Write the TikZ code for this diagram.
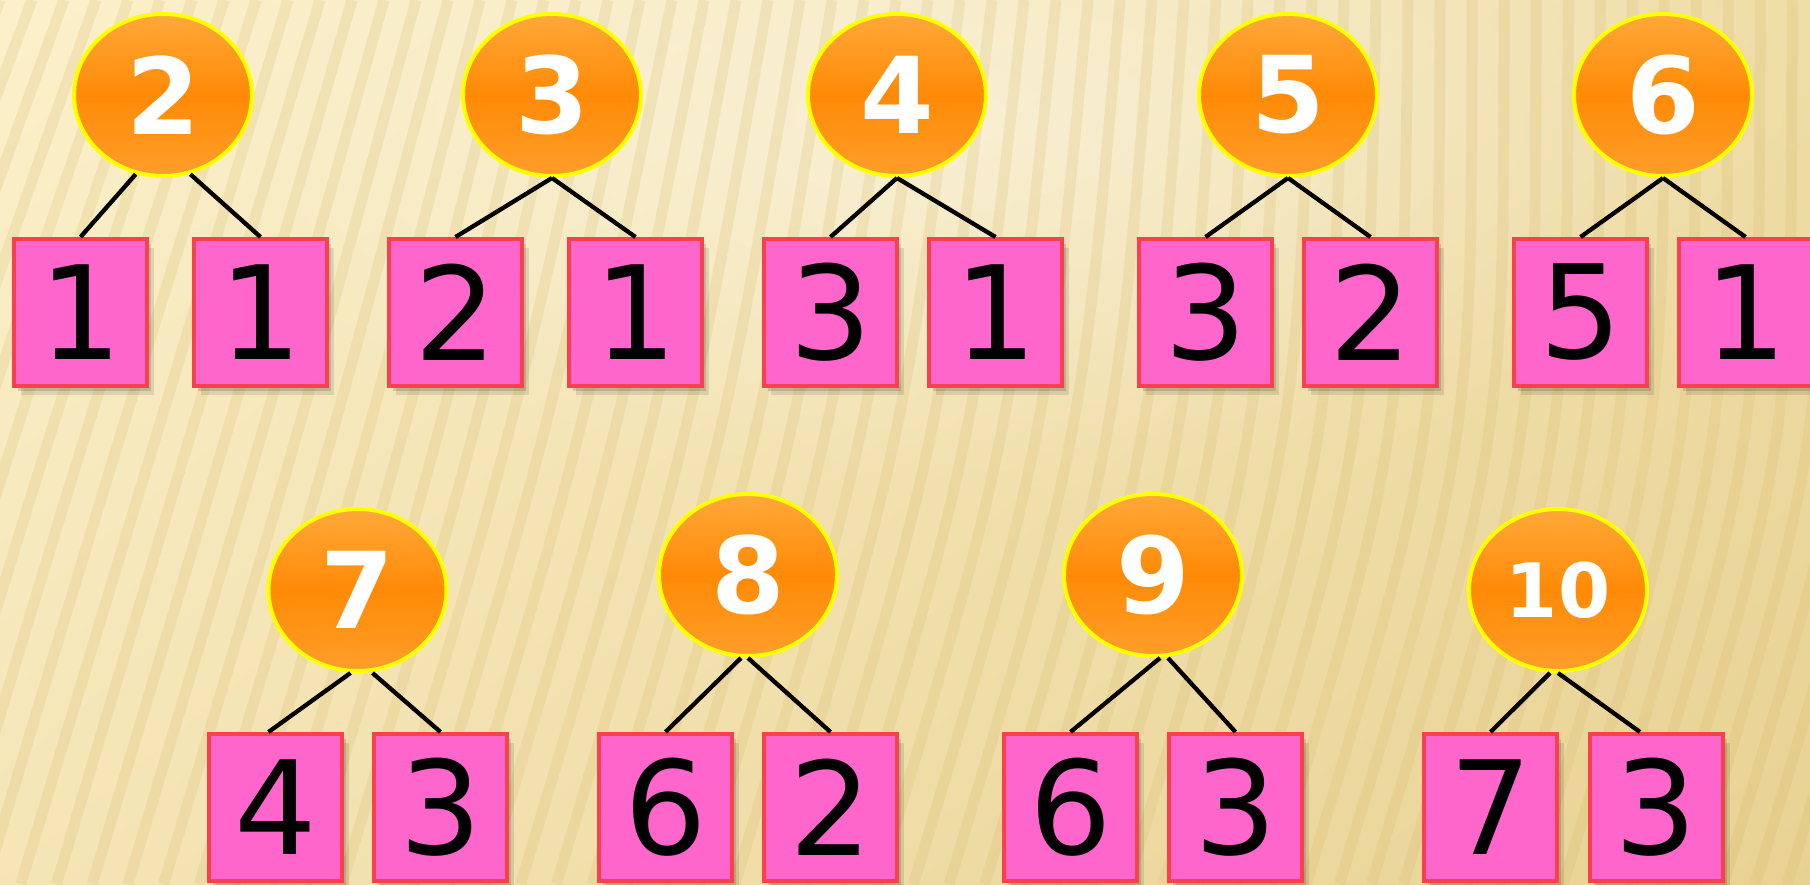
\documentclass[tikz,border=0pt]{standalone}
\usepackage{fontspec}
\setmainfont{DejaVu Sans}
\usetikzlibrary{shapes.geometric,shadows,calc,fadings}
\tikzfading[name=softglow, inner color=transparent!0, outer color=transparent!100]
\definecolor{bgA}{HTML}{FCF1CC}
\definecolor{bgB}{HTML}{E8D192}
\definecolor{stripe}{HTML}{D4B664}
\definecolor{orTop}{HTML}{FFA83A}
\definecolor{orMid}{HTML}{FF8A06}
\definecolor{orBot}{HTML}{FF9E2A}
\definecolor{ringY}{HTML}{FFFF00}
\definecolor{boxpink}{HTML}{FF66CC}
\definecolor{boxred}{HTML}{F8404E}
\newcommand{\circnum}{\fontsize{106}{106}\selectfont\bfseries}
\newcommand{\circnumsmall}{\fontsize{75}{75}\selectfont\bfseries}
\newcommand{\boxnum}{\fontsize{130}{130}\selectfont}
\tikzset{
  circ/.style={ellipse, draw=ringY, line width=4pt, minimum width=178pt,
    minimum height=162pt, inner sep=0pt, top color=orTop, bottom color=orBot,
    middle color=orMid, text=white, font=\circnum},
  sq/.style={rectangle, draw=boxred, line width=4pt, fill=boxpink,
    minimum width=133pt, minimum height=147pt, inner sep=0pt, font=\boxnum,
    drop shadow={opacity=0.10, shadow xshift=7pt, shadow yshift=-9pt, fill=black},
    drop shadow={opacity=0.14, shadow xshift=4pt, shadow yshift=-5pt, fill=black}},
  link/.style={line width=4.3pt, black}
}
\begin{document}
\begin{tikzpicture}[x=1pt,y=-1pt]
\useasboundingbox (0,0) rectangle (1810,884);
\clip (0,0) rectangle (1810,884);
% background
\shade[shading=axis, top color=bgA, bottom color=bgB, shading angle=40] (-300,-300) rectangle (2110,1184);
\fill[white, opacity=0.4, path fading=softglow] (950,120) ellipse (850 and 380);
\foreach \i in {0,32,...,2200}{
  \pgfmathsetmacro\t{max(0,0.38*(1-\i/1450))}
  \draw[stripe, opacity=0.2, line width=11pt]
    (\i,0) .. controls ({\i-\t*442},442) .. ({\i-\t*442-0.3*442},884);
}
% top row
\node[circ] (c2) at (163,95) {2};
\node[sq] (b2a) at (80.5,312.5) {1};
\node[sq] (b2b) at (260.5,312.5) {1};
\node[circ] (c3) at (552,95) {3};
\node[sq] (b3a) at (455.5,312.5) {2};
\node[sq] (b3b) at (635.5,312.5) {1};
\node[circ] (c4) at (897,95) {4};
\node[sq] (b4a) at (830.5,312.5) {3};
\node[sq] (b4b) at (995.5,312.5) {1};
\node[circ] (c5) at (1288,95) {5};
\node[sq] (b5a) at (1205.5,312.5) {3};
\node[sq] (b5b) at (1370.5,312.5) {2};
\node[circ] (c6) at (1663,95) {6};
\node[sq] (b6a) at (1580.5,312.5) {5};
\node[sq] (b6b) at (1745.5,312.5) {1};
% bottom row
\node[circ] (c7) at (357.5,590) {7};
\node[sq] (b7a) at (275.5,807.5) {4};
\node[sq] (b7b) at (440.5,807.5) {3};
\node[circ] (c8) at (748,575) {8};
\node[sq] (b8a) at (665.5,807.5) {6};
\node[sq] (b8b) at (830.5,807.5) {2};
\node[circ] (c9) at (1153,575) {9};
\node[sq] (b9a) at (1070.5,807.5) {6};
\node[sq] (b9b) at (1235.5,807.5) {3};
\node[circ, font=\circnumsmall] (c10) at (1558,590) {10};
\node[sq] (b10a) at (1490.5,807.5) {7};
\node[sq] (b10b) at (1656,807.5) {3};
% connectors
\draw[link] (c2.251) -- (b2a.north);
\draw[link] (c2.289) -- (b2b.north);
\draw[link] (c3.south) -- (b3a.north);
\draw[link] (c3.south) -- (b3b.north);
\draw[link] (c4.south) -- (b4a.north);
\draw[link] (c4.south) -- (b4b.north);
\draw[link] (c5.south) -- (b5a.north);
\draw[link] (c5.south) -- (b5b.north);
\draw[link] (c6.south) -- (b6a.north);
\draw[link] (c6.south) -- (b6b.north);
\draw[link] ($(c7.south)+(-7,0)$) -- ($(b7a.north)+(-7,0)$);
\draw[link] ($(c7.south)+(15,0)$) -- (b7b.north);
\draw[link] ($(c8.south)+(-7,0)$) -- (b8a.north);
\draw[link] (c8.south) -- (b8b.north);
\draw[link] ($(c9.south)+(7,0)$) -- (b9a.north);
\draw[link] ($(c9.south)+(15,0)$) -- (b9b.north);
\draw[link] ($(c10.south)+(-8,0)$) -- (b10a.north);
\draw[link] (c10.south) -- ($(b10b.north)+(-16,0)$);
\end{tikzpicture}
\end{document}
